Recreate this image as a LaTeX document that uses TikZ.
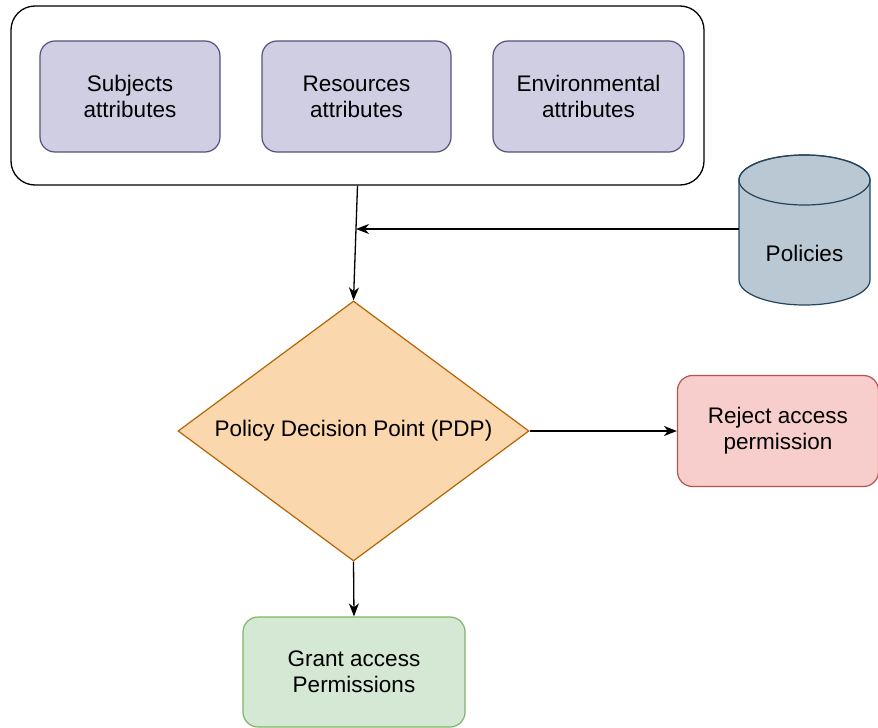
\documentclass[tikz,border=0pt]{standalone}
\usepackage{fontspec}
\setmainfont{Liberation Sans}
\usetikzlibrary{arrows.meta,shapes.geometric}
\definecolor{purfill}{HTML}{D0CEE2}
\definecolor{purdraw}{HTML}{56517E}
\definecolor{cylfill}{HTML}{BAC8D3}
\definecolor{cyldraw}{HTML}{23445D}
\definecolor{orfill}{HTML}{FAD7AC}
\definecolor{ordraw}{HTML}{B46504}
\definecolor{redfill}{HTML}{F8CECC}
\definecolor{reddraw}{HTML}{B85450}
\definecolor{grfill}{HTML}{D5E8D4}
\definecolor{grdraw}{HTML}{82B366}
\tikzset{
  txt/.style={font=\fontsize{22.5}{26}\selectfont, align=center, text=black},
  attrbox/.style={txt, draw=purdraw, fill=purfill, line width=1.2pt, rounded corners=15pt, inner sep=0pt},
  outbox/.style={draw=black, line width=1.3pt, rounded corners=24pt, fill=white, inner sep=0pt},
  conn/.style={line width=1.3pt, -{Stealth[length=13pt,width=10pt,inset=4pt]}},
}
\begin{document}
\begin{tikzpicture}[x=1pt,y=-1pt]
\useasboundingbox (0,0) rectangle (878,728);
% container
\node[outbox, minimum width=693pt, minimum height=179pt] (cont) at (357.5,95.5) {};
\node[attrbox, minimum width=180pt, minimum height=111pt] (subj) at (130,96.5) {Subjects\\attributes};
\node[attrbox, minimum width=189pt, minimum height=111pt] (res) at (356.5,96.5) {Resources\\attributes};
\node[attrbox, minimum width=191pt, minimum height=111pt] (env) at (588.5,96.5) {Environmental\\attributes};
% cylinder
\draw[fill=cylfill, draw=cyldraw, line width=1.2pt] (739,180) -- (739,280) arc[start angle=180, end angle=0, x radius=65.5, y radius=25] -- (870,180) arc[start angle=0, end angle=-180, x radius=65.5, y radius=25];
\draw[draw=cyldraw, line width=1.2pt] (804.5,180) ellipse[x radius=65.5, y radius=25];
\node[minimum width=131pt, minimum height=150pt, inner sep=0pt] (pol) at (804.5,229) {};
\node[txt] (poltxt) at (804.5,253) {Policies};
% diamond
\node[diamond, draw=ordraw, fill=orfill, line width=1.2pt, minimum width=351pt, minimum height=260pt, inner sep=0pt] (pdp) at (353.5,431) {};
\node[txt] (pdptxt) at (pdp.center) {Policy Decision Point (PDP)};
% reject
\node[txt, draw=reddraw, fill=redfill, line width=1.2pt, rounded corners=15pt, minimum width=201pt, minimum height=111pt, inner sep=0pt] (rej) at (778,431) {Reject access\\permission};
% grant
\node[txt, draw=grdraw, fill=grfill, line width=1.2pt, rounded corners=15pt, minimum width=222pt, minimum height=110pt, inner sep=0pt] (grant) at (354,672) {Grant access\\Permissions};
% connectors
\coordinate (j) at (356,229);
\draw[conn] (cont.south) -- (pdp.north);
\draw[conn] (pol.west) -- (j);
\draw[conn] (pdp.east) -- (rej.west);
\draw[conn] (pdp.south) -- (grant.north);
\end{tikzpicture}
\end{document}
